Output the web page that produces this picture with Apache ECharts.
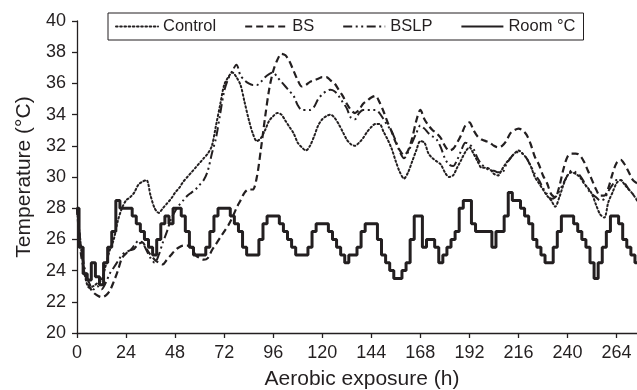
<!DOCTYPE html>
<html>
<head>
<meta charset="utf-8">
<script src="https://cdn.jsdelivr.net/npm/echarts@6/dist/echarts.min.js"></script>
<style>html,body{margin:0;padding:0;background:#fff;}#chart{width:637px;height:390px;}</style>
</head>
<body>
<div id="chart"></div>
<script>
const hours = [
0,2,4,6,8,10,12,14,16,18,
20,22,24,26,28,30,32,34,36,38,
40,42,44,46,48,50,52,54,56,58,
60,62,64,66,68,70,72,74,76,78,
80,82,84,86,88,90,92,94,96,98,
100,102,104,106,108,110,112,114,116,118,
120,122,124,126,128,130,132,134,136,138,
140,142,144,146,148,150,152,154,156,158,
160,162,164,166,168,170,172,174,176,178,
180,182,184,186,188,190,192,194,196,198,
200,202,204,206,208,210,212,214,216,218,
220,222,224,226,228,230,232,234,236,238,
240,242,244,246,248,250,252,254,256,258,
260,262,264,266,268,270,272,274];

const control = [
28.0,25.5,23.6,22.9,23.0,23.2,23.4,24.3,25.3,26.0,
27.2,28.0,28.5,28.7,29.0,29.5,29.7,29.8,28.8,28.0,
27.7,28.0,28.3,28.6,29.0,29.3,29.7,30.0,30.3,30.6,
30.9,31.2,31.5,32.0,33.3,34.6,35.9,36.4,36.7,36.4,
35.9,34.8,33.7,32.8,32.3,32.5,33.0,33.6,33.9,34.1,
34.0,33.6,33.2,32.8,32.2,31.9,31.7,32.0,32.6,33.3,
33.7,33.9,34.0,33.8,33.4,32.9,32.4,32.1,32.0,32.2,
32.5,32.9,33.2,33.4,33.4,32.9,32.4,31.8,31.0,30.3,
29.9,30.3,31.0,31.7,32.3,32.2,31.5,31.2,31.0,30.8,
30.3,30.0,30.1,30.6,31.1,31.6,31.9,31.5,31.0,30.6,
30.6,30.5,30.2,30.1,30.5,30.9,31.2,31.5,31.7,31.5,
31.2,30.7,30.0,29.6,29.2,28.8,28.5,28.1,28.7,29.5,
30.1,30.3,30.2,30.0,29.6,29.3,28.9,28.2,27.6,27.4,
28.4,29.0,29.6,29.8,29.5,29.2,28.9,28.5];

const bs = [
28.0,25.0,23.8,23.0,22.6,22.4,22.3,22.4,22.7,23.3,
24.0,24.8,25.1,25.3,25.4,25.7,25.8,25.4,25.0,24.7,
24.5,24.4,24.7,25.0,25.3,25.5,25.6,25.6,25.5,25.0,
24.8,24.7,24.8,25.3,25.7,26.1,26.5,26.9,27.4,28.0,
28.5,29.0,29.2,29.2,30.0,31.8,33.8,35.6,36.8,37.5,
37.9,37.8,37.4,36.8,36.2,35.8,35.9,36.1,36.2,36.3,
36.4,36.4,36.2,36.0,35.6,35.2,34.7,34.3,34.1,34.3,
34.7,34.9,35.1,35.2,34.8,34.2,33.5,32.9,32.2,31.7,
31.4,31.7,32.5,33.6,34.3,33.7,33.3,33.0,32.8,32.5,
32.0,31.7,31.8,32.2,32.7,33.3,33.5,33.0,32.6,32.4,
32.3,32.2,32.0,31.9,32.0,32.3,32.8,33.0,33.1,33.0,
32.7,32.1,31.3,30.8,30.1,29.6,28.9,28.7,29.4,30.5,
31.3,31.5,31.5,31.4,31.0,30.4,29.8,29.2,28.8,28.8,
29.3,30.2,30.9,31.1,30.8,30.3,29.8,29.6];

const bslp = [
28.0,25.5,24.0,23.2,22.8,23.0,22.8,23.2,23.8,24.2,
24.6,25.0,25.2,25.3,25.6,25.9,25.8,25.3,24.8,24.5,
25.0,25.8,26.5,27.3,27.8,28.2,28.5,28.8,29.0,29.2,
29.5,29.8,30.4,31.5,32.5,34.0,35.5,36.3,36.8,37.2,
36.5,36.2,36.0,35.9,35.9,36.1,36.4,36.6,36.7,36.4,
36.1,35.8,35.5,35.2,34.6,34.3,34.3,34.3,34.5,35.0,
35.3,35.5,35.6,35.5,35.2,34.8,34.4,33.8,33.7,34.1,
34.3,34.3,34.3,34.3,34.1,33.7,33.3,32.9,32.3,31.6,
31.2,31.6,32.2,32.8,33.3,33.1,32.8,32.6,32.4,31.9,
31.2,30.8,30.7,31.1,31.7,32.2,32.1,31.8,31.2,30.8,
30.6,30.4,30.4,30.3,30.3,30.8,31.2,31.5,31.6,31.5,
31.2,30.7,30.2,29.8,29.3,28.9,28.6,28.7,29.1,29.6,
30.1,30.4,30.3,30.1,29.7,29.2,28.9,28.7,28.5,28.6,
29.1,29.5,29.8,29.8,29.6,29.2,28.9,28.7];

const room = [
28,25.5,23.8,23.4,24.5,23.6,23.1,24.5,25.5,26.5,
28.5,28,28,28,27.5,27,26.5,26,25.5,25,
26,27,27.5,27,28,28,27.5,26.5,25.5,25,
25,25,25.5,26.5,27.5,28,28,28,27.5,27,
26.5,25.5,25,25,25,26,27,27.5,27.5,27.5,
27,26.5,26,25.5,25,25,25,25.5,26.5,27,
27,27,26.5,26,25.5,25,24.5,25,25,25.5,
26.5,27,27,27,26,25,24.5,24,23.5,23.5,
24,24.5,26,27.5,27.5,25.5,26,26,25.5,24.5,
25,25.5,26,26.5,28,28.5,28.5,27,26.5,26.5,
26.5,26.5,25.5,26.5,26.5,27.5,29,28.5,28.5,28,
27.5,27,26,25.5,25,24.5,24.5,25.5,26.5,27.5,
27.5,27.5,27,26.5,26,25.5,24.5,23.5,24.5,25.5,
26.5,27.5,27.5,27,26,25.5,25,24.5];

const seriesNames = ['Control', 'BS', 'BSLP', 'Room °C'];
const xTicks = [0,24,48,72,96,120,144,168,192,216,240,264];

const ink = '#231f20';
const font = "'Liberation Sans', Arial, Helvetica, sans-serif";
const pair = arr => hours.map((h, i) => [h, arr[i]]);

const chart = echarts.init(document.getElementById('chart'), null, {renderer: 'canvas'});
chart.setOption({
  animation: false,
  backgroundColor: '#fff',
  textStyle: {fontFamily: font, color: ink},
  grid: {left: 77, right: 0, top: 21, bottom: 57, containLabel: false, outerBoundsMode: 'none'},
  legend: {
    data: seriesNames,
    left: 108, top: 13,
    padding: [5, 8, 5, 7],
    itemWidth: 42, itemHeight: 14, itemGap: 28,
    borderColor: ink, borderWidth: 1, borderRadius: 0,
    itemStyle: {color: 'rgba(0,0,0,0)', borderColor: 'rgba(0,0,0,0)', borderWidth: 0, opacity: 0},
    textStyle: {fontFamily: font, fontSize: 16.5, color: ink}
  },
  xAxis: {
    type: 'value', min: 0, max: 274, interval: 24,
    name: 'Aerobic exposure (h)', nameLocation: 'middle', nameGap: 36,
    nameTextStyle: {fontFamily: font, fontSize: 21, color: ink, padding: [0, 0, 0, 10]},
    axisLine: {show: true, onZero: false, lineStyle: {color: ink, width: 1.3}},
    axisTick: {show: true, length: 5, lineStyle: {color: ink, width: 1.3},
      customValues: xTicks},
    axisLabel: {fontFamily: font, fontSize: 18, color: ink, margin: 11,
      customValues: xTicks},
    splitLine: {show: false}
  },
  yAxis: {
    type: 'value', min: 20, max: 40, interval: 2,
    name: 'Temperature (°C)', nameLocation: 'middle', nameGap: 42,
    nameTextStyle: {fontFamily: font, fontSize: 21, color: ink},
    axisLine: {show: true, lineStyle: {color: ink, width: 1.3}},
    axisTick: {show: true, length: 5, lineStyle: {color: ink, width: 1.3}},
    axisLabel: {fontFamily: font, fontSize: 18, color: ink, margin: 11},
    splitLine: {show: false}
  },
  series: [
    {name: 'Control', type: 'line', data: pair(control), showSymbol: false, symbol: 'none',
     smooth: 0.3, color: ink, lineStyle: {color: ink, width: 2, type: [1.6, 2.6], cap: 'round'}},
    {name: 'BS', type: 'line', data: pair(bs), showSymbol: false, symbol: 'none',
     smooth: 0.3, color: ink, lineStyle: {color: ink, width: 2.2, type: [7, 4]}},
    {name: 'BSLP', type: 'line', data: pair(bslp), showSymbol: false, symbol: 'none',
     smooth: 0.3, color: ink, lineStyle: {color: ink, width: 2, type: [9, 3.5, 2, 3.5, 2, 3.5]}},
    {name: 'Room °C', type: 'line', data: pair(room), showSymbol: false, symbol: 'none',
     step: 'middle', color: ink, lineStyle: {color: ink, width: 3}}
  ]
});
</script>
</body>
</html>
